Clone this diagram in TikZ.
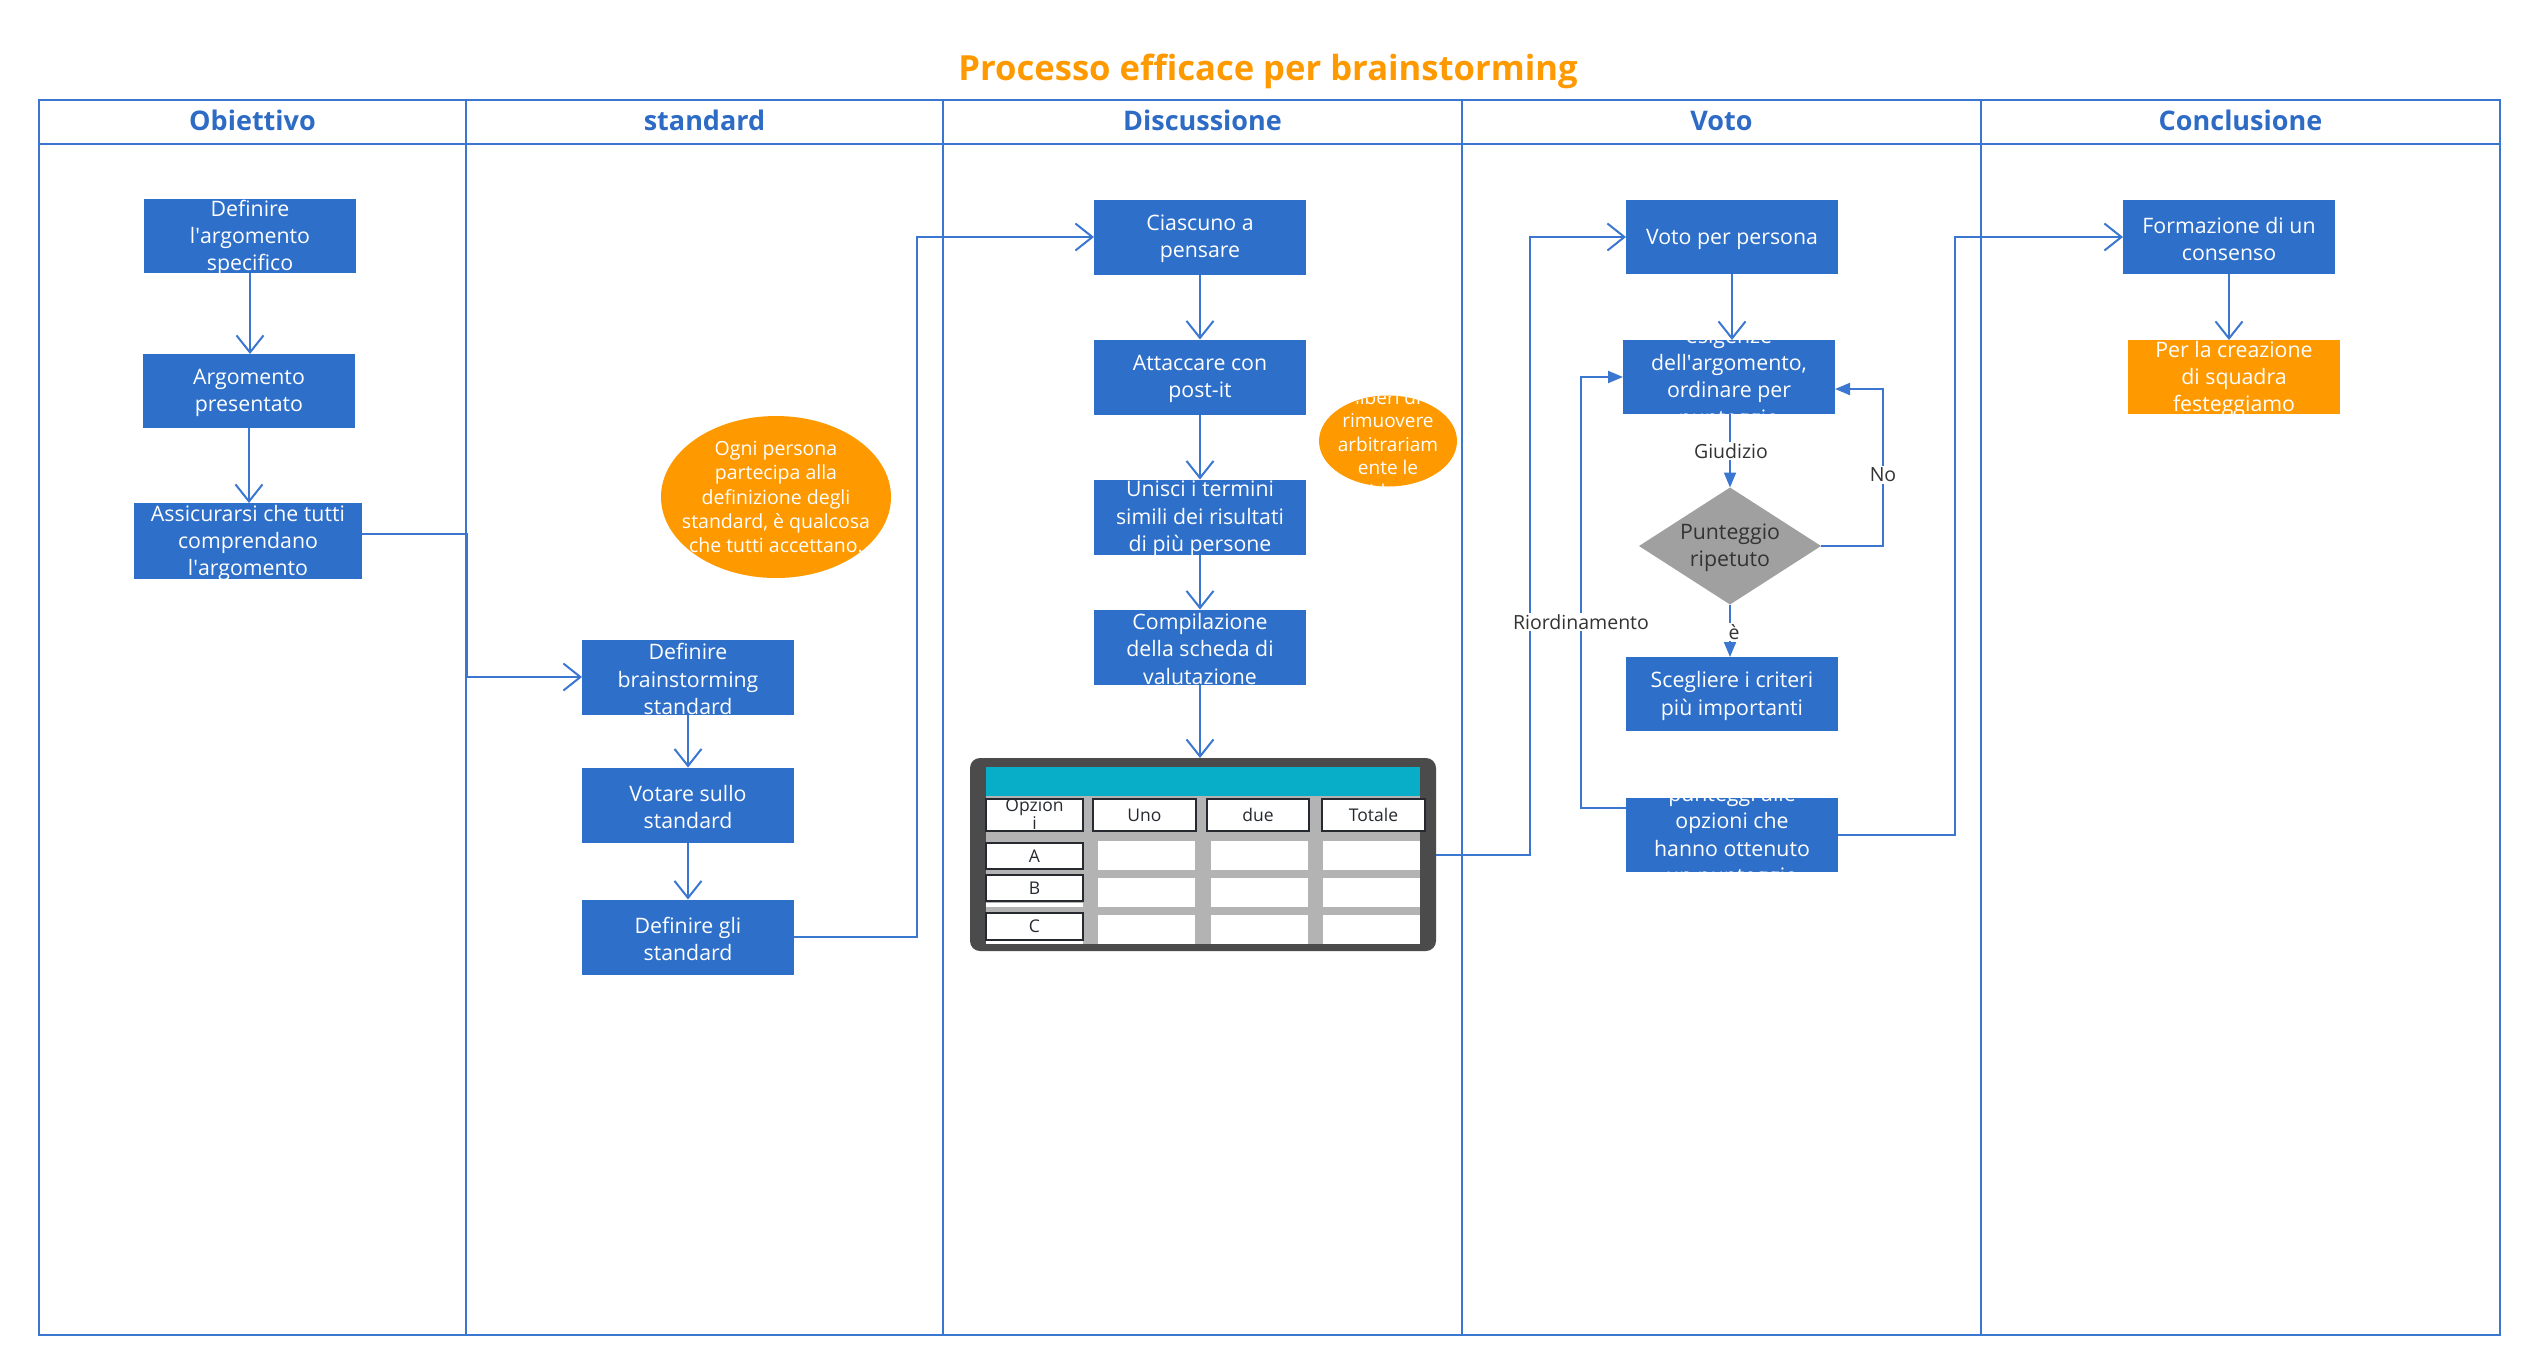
\documentclass[tikz,border=0pt]{standalone}
\usepackage{fontspec}
\setmainfont{Open Sans}
\usetikzlibrary{arrows.meta,shapes.geometric,calc}
\definecolor{boxblue}{HTML}{2E6FC9}
\definecolor{lineblue}{HTML}{3B77D1}
\definecolor{headblue}{HTML}{2D6BC5}
\definecolor{orng}{HTML}{FF9900}
\definecolor{tealc}{HTML}{08AEC7}
\definecolor{dgray}{HTML}{4B4B4B}
\definecolor{lgray}{HTML}{B3B3B3}
\definecolor{diag}{HTML}{A0A0A0}
\definecolor{txtd}{HTML}{333333}
\definecolor{cellb}{HTML}{262A30}
\newcommand\apo{\textquotesingle}
\begin{document}
\begin{tikzpicture}[x=1pt,y=-1pt,
 lane/.style={draw=lineblue,line width=1.8pt},
 box/.style={fill=boxblue,minimum width=212pt,minimum height=74pt,inner sep=0pt,outer sep=0pt},
 btxt/.style={text=white,align=center,inner sep=0pt,yshift=-2pt,font=\fontsize{21.3}{27.3}\selectfont},
 etxt/.style={text=white,align=center,inner sep=0pt,font=\fontsize{19.5}{24.3}\selectfont},
 obox/.style={box,fill=orng},
 oell/.style={ellipse,fill=orng,inner sep=0pt,outer sep=0pt},
 conn/.style={draw=lineblue,line width=2pt},
 oarr/.style={conn,-{Straight Barb[length=17pt,width=27pt]}},
 farr/.style={conn,-{Triangle[length=15pt,width=12pt]}},
 lbl/.style={fill=white,text=txtd,inner sep=1.5pt,font=\fontsize{19.5}{22}\selectfont},
 head/.style={text=headblue,font=\bfseries\fontsize{27}{30}\selectfont},
 cellbox/.style={fill=white,draw=cellb,line width=2.5pt,inner sep=0pt,outer sep=0pt},
 ctxt/.style={text=cellb,align=center,inner sep=0pt,font=\fontsize{17.5}{18.5}\selectfont}
]
\useasboundingbox (0,0) rectangle (2535,1371);

% title
\node[text=orng,font=\bfseries\fontsize{34.6}{40}\selectfont] (title) at (1268,71) {Processo efficace per brainstorming};

% lanes
\draw[lane] (39,100) rectangle (2500,1335);
\draw[lane] (39,144) -- (2500,144);
\foreach \x in {466,943,1462,1981} \draw[lane] (\x,100) -- (\x,1335);
\node[head] (h1) at (252.5,120.5) {Obiettivo};
\node[head] (h2) at (704.5,120.5) {standard};
\node[head] (h3) at (1202.5,120.5) {Discussione};
\node[head] (h4) at (1721.5,120.5) {Voto};
\node[head] (h5) at (2240.5,120.5) {Conclusione};

% lane 1
\node[box] (a1) at (250,236) {};
\node[btxt] at (a1) {Definire\\l\apo argomento\\specifico};
\node[box] (a2) at (249,391) {};
\node[btxt] at (a2) {Argomento\\presentato};
\node[box,minimum width=228pt,minimum height=76pt] (a3) at (248,541) {};
\node[btxt] at (a3) {Assicurarsi che tutti\\comprendano\\l\apo argomento};

% lane 2
\node[oell,minimum width=230pt,minimum height=162pt] (el1) at (776,497) {};
\node[etxt] at (el1) {Ogni persona\\partecipa alla\\definizione degli\\standard, è qualcosa\\che tutti accettano.};
\node[box,minimum height=75pt] (b1) at (688,677) {};
\node[btxt] at (b1) {Definire\\brainstorming\\standard};
\node[box,minimum height=75pt] (b2) at (688,805) {};
\node[btxt] at (b2) {Votare sullo\\standard};
\node[box,minimum height=75pt] (b3) at (688,937) {};
\node[btxt] at (b3) {Definire gli\\standard};

% lane 3
\node[box,minimum height=75pt] (c1) at (1200,237) {};
\node[btxt] at (c1) {Ciascuno a\\pensare};
\node[box,minimum height=75pt] (c2) at (1200,377) {};
\node[btxt] at (c2) {Attaccare con\\post-it};
\node[box,minimum height=75pt] (c3) at (1200,517) {};
\node[btxt] at (c3) {Unisci i termini\\simili dei risultati\\di più persone};
\node[box,minimum height=75pt] (c4) at (1200,647) {};
\node[btxt] at (c4) {Compilazione\\della scheda di\\valutazione};
\node[oell,minimum width=138pt,minimum height=91pt] (el2) at (1388,441) {};
\begin{scope}
\clip (1388,441) ellipse [x radius=69, y radius=45.5];
\node[etxt,font=\fontsize{19}{23.5}\selectfont] at (1388,444) {liberi di\\rimuovere\\arbitrariam\\ente le\\idee};
\end{scope}

% table
\node[fill=dgray,rounded corners=10pt,minimum width=466pt,minimum height=193pt,inner sep=0pt,outer sep=0pt] (tbl) at (1203,854.5) {};
\fill[tealc] (986,767) rectangle (1420,796);
\fill[lgray] (986,796) rectangle (1420,944);
\foreach \xa/\xb in {1098/1195,1211/1308,1323/1420}
  \foreach \ya/\yb in {841/870,878/907,915/944}
    \fill[white] (\xa,\ya) rectangle (\xb,\yb);
\fill[white] (986,903) rectangle (1083,907);
\fill[white] (986,941) rectangle (1083,944);
\node[cellbox,minimum width=97pt,minimum height=32pt] (hop) at (1034.5,815) {};
\node[ctxt] at (1034.5,814) {Opzion\\i};
\node[cellbox,minimum width=103pt,minimum height=32pt] (huno) at (1144.5,815) {};
\node[ctxt] at (huno) {Uno};
\node[cellbox,minimum width=102pt,minimum height=32pt] (hdue) at (1258,815) {};
\node[ctxt] at (hdue) {due};
\node[cellbox,minimum width=103pt,minimum height=32pt] (htot) at (1373.5,815) {};
\node[ctxt] at (htot) {Totale};
\node[cellbox,minimum width=97pt,minimum height=26pt] (ra) at (1034.5,856) {};
\node[ctxt] at (ra) {A};
\node[cellbox,minimum width=97pt,minimum height=26pt] (rb) at (1034.5,888) {};
\node[ctxt] at (rb) {B};
\node[cellbox,minimum width=97pt,minimum height=27pt] (rc) at (1034.5,926.5) {};
\node[ctxt] at (rc) {C};

% lane 4
\node[box] (d1) at (1732,237) {};
\node[btxt] at (d1) {Voto per persona};
\node[box] (d2) at (1729,377) {};
\node[btxt] at (d2) {esigenze\\dell\apo argomento,\\ordinare per\\punteggio};
\node[diamond,fill=diag,minimum width=182pt,minimum height=117pt,inner sep=0pt,outer sep=0pt] (dia) at (1730,546) {};
\node[btxt,text=txtd] at (dia) {Punteggio\\ripetuto};
\node[box] (d3) at (1732,694) {};
\node[btxt] at (d3) {Scegliere i criteri\\più importanti};
\node[box] (d4) at (1732,835) {};
\node[btxt] at (d4) {punteggi alle\\opzioni che\\hanno ottenuto\\un punteggio};

% lane 5
\node[box] (e1) at (2229,237) {};
\node[btxt] at (e1) {Formazione di un\\consenso};
\node[obox] (e2) at (2234,377) {};
\node[btxt] at (e2) {Per la creazione\\di squadra\\festeggiamo};

% connectors
\coordinate (j1) at (467,0);
\coordinate (j2) at (917,0);
\coordinate (j3) at (1530,0);
\coordinate (j4) at (1955,0);
\coordinate (noR) at (1883,389);
\coordinate (r1) at (1581,808);
\coordinate (r2) at (1581,377);

\draw[oarr] (a1.south) -- (a1.south |- a2.north);
\draw[oarr] (a2.south) -- (a2.south |- a3.north);
\draw[oarr] ($(a3.east)+(0,-7)$) -| (j1 |- b1.west) -- (b1.west);
\draw[oarr] (b1.south) -- (b2.north);
\draw[oarr] (b2.south) -- (b3.north);
\draw[oarr] (b3.east) -| (j2 |- c1.west) -- (c1.west);
\draw[oarr] (c1.south) -- (c2.north);
\draw[oarr] (c2.south) -- (c3.north);
\draw[oarr] (c3.south) -- (c4.north);
\draw[oarr] (c4.south) -- (c4.south |- tbl.north);
\draw[oarr] (tbl.east) -| (j3 |- d1.west) -- (d1.west);
\draw[oarr] (d1.south) -- (d1.south |- d2.north);
\draw[farr] (d2.south -| dia.north) -- (dia.north);
\draw[farr] (dia.east) -| (noR) -- (noR -| d2.east);
\draw[farr] (dia.south) -- (dia.south |- d3.north);
\draw[farr] (d4.west |- r1) -- (r1) -- (r2) -- (r2 -| d2.west);
\draw[oarr] (d4.east) -| (j4 |- e1.west) -- (e1.west);
\draw[oarr] (e1.south) -- (e1.south |- e2.north);

% labels
\node[lbl] (lg) at (1731,451) {Giudizio};
\node[lbl] (lno) at (1883,475) {No};
\node[lbl] (le) at (1734,632) {è};
\node[lbl] (lr) at (1581,622) {Riordinamento};
\end{tikzpicture}
\end{document}
